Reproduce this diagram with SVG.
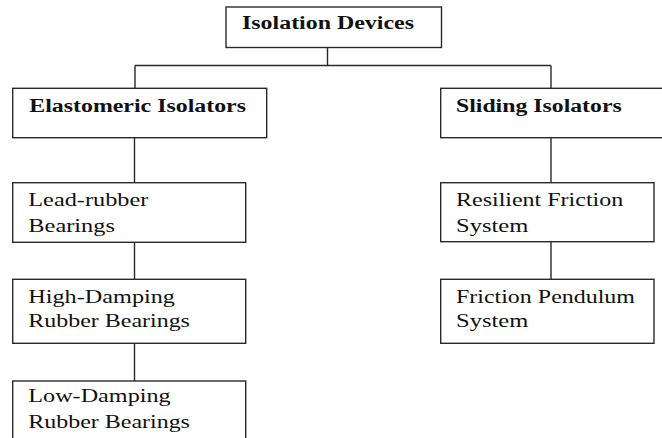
<svg xmlns="http://www.w3.org/2000/svg" width="662" height="438" viewBox="0 0 662 438">
<style>
.box{fill:#fff;stroke:#2a2a2a;stroke-width:1.4}
.t{font-family:"Liberation Serif","Times New Roman",serif;font-size:19px;fill:#111}
.b{font-weight:bold}
.c{fill:none;stroke:#2a2a2a;stroke-width:1.4}
</style>
<rect width="662" height="438" fill="#fff"/>
<g id="connectors">
<path class="c" d="M327.5 47.5V65.5M135 65.5H551M135 65.5V88.5M551 65.5V88.5"/>
<path class="c" d="M134.5 137.5V182.5M134.5 242.5V279.5M134.5 343.5V381"/>
<path class="c" d="M551 137.5V182.5M551 242V279.5"/>
</g>
<g id="isolation-devices">
<rect class="box" x="226" y="7" width="215.5" height="40.5"/>
<text class="t b" transform="scale(1.27 1)" x="190.55" y="29" textLength="135.4" lengthAdjust="spacingAndGlyphs">Isolation Devices</text>
</g>
<g id="elastomeric">
<rect class="box" x="12.7" y="88.3" width="254" height="49.4"/>
<text class="t b" transform="scale(1.27 1)" x="23.07" y="111.7" textLength="170.6" lengthAdjust="spacingAndGlyphs">Elastomeric Isolators</text>
</g>
<g id="sliding">
<rect class="box" x="440.7" y="88.3" width="230" height="49.4"/>
<text class="t b" transform="scale(1.27 1)" x="359.06" y="111.7" textLength="130.5" lengthAdjust="spacingAndGlyphs">Sliding Isolators</text>
</g>
<g id="lead-rubber">
<rect class="box" x="12.7" y="182.7" width="233" height="59.6"/>
<text class="t" transform="scale(1.27 1)" x="22.28" y="206.5" textLength="94.5" lengthAdjust="spacingAndGlyphs">Lead-rubber</text>
<text class="t" transform="scale(1.27 1)" x="22.28" y="232" textLength="68.3" lengthAdjust="spacingAndGlyphs">Bearings</text>
</g>
<g id="high-damping">
<rect class="box" x="12.7" y="279.3" width="233" height="64"/>
<text class="t" transform="scale(1.27 1)" x="22.28" y="303" textLength="115.5" lengthAdjust="spacingAndGlyphs">High-Damping</text>
<text class="t" transform="scale(1.27 1)" x="22.28" y="327.3" textLength="127.3" lengthAdjust="spacingAndGlyphs">Rubber Bearings</text>
</g>
<g id="low-damping">
<rect class="box" x="12.7" y="381" width="233" height="70"/>
<text class="t" transform="scale(1.27 1)" x="22.28" y="402.5" textLength="112.1" lengthAdjust="spacingAndGlyphs">Low-Damping</text>
<text class="t" transform="scale(1.27 1)" x="22.28" y="428.3" textLength="127.3" lengthAdjust="spacingAndGlyphs">Rubber Bearings</text>
</g>
<g id="resilient-friction">
<rect class="box" x="440.7" y="182.7" width="213.3" height="59"/>
<text class="t" transform="scale(1.27 1)" x="359.06" y="206" textLength="131.7" lengthAdjust="spacingAndGlyphs">Resilient Friction</text>
<text class="t" transform="scale(1.27 1)" x="359.06" y="231.7" textLength="56.9" lengthAdjust="spacingAndGlyphs">System</text>
</g>
<g id="friction-pendulum">
<rect class="box" x="440.7" y="279.3" width="213.3" height="64"/>
<text class="t" transform="scale(1.27 1)" x="359.06" y="302.7" textLength="140.9" lengthAdjust="spacingAndGlyphs">Friction Pendulum</text>
<text class="t" transform="scale(1.27 1)" x="359.06" y="327.3" textLength="56.9" lengthAdjust="spacingAndGlyphs">System</text>
</g>
</svg>
